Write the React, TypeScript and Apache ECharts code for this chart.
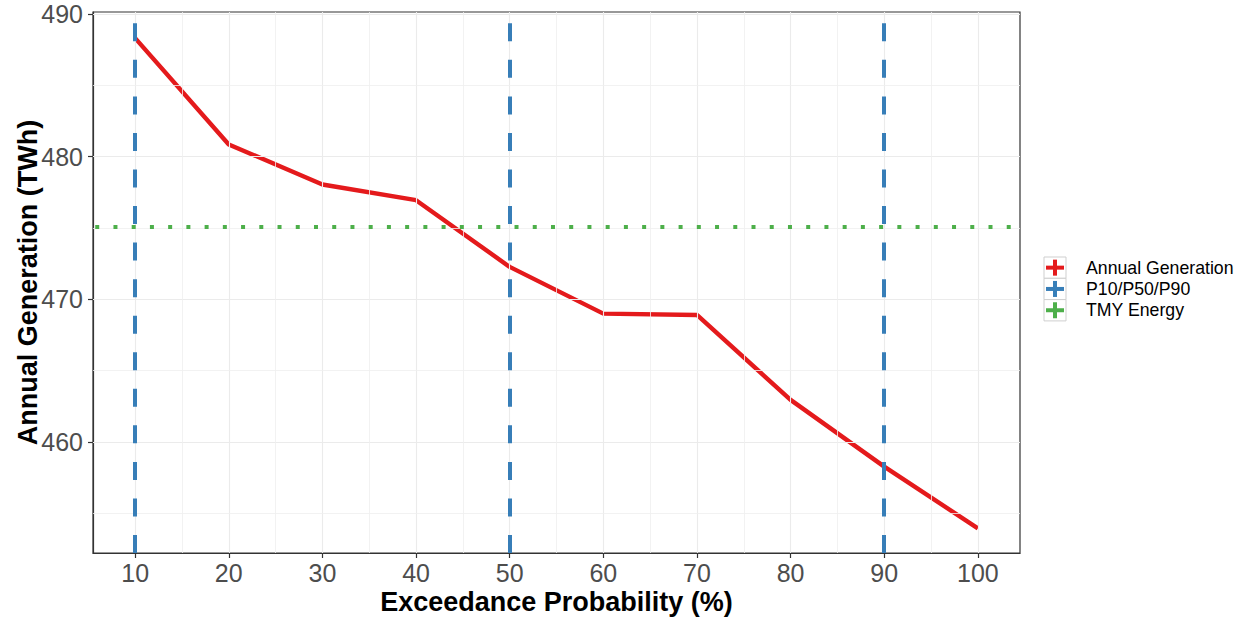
import React, { useEffect, useRef } from "react";
import * as echarts from "echarts";

// ---- data ----
const probX = [10, 20, 30, 40, 50, 60, 70, 80, 90, 100];
const genValues = [488.32, 480.86, 478.05, 476.95, 472.27, 468.99, 468.9, 462.94, 458.26, 453.93];
const pLevels = [10, 50, 90];
const tmyEnergy = 475.12;
const xTickValues = [10, 20, 30, 40, 50, 60, 70, 80, 90, 100];
const yTickValues = [460, 470, 480, 490];
const xMinorGrid = [15, 25, 35, 45, 55, 65, 75, 85, 95];
const yMinorGrid = [455, 465, 475, 485];
const legendNames = ["Annual Generation", "P10/P50/P90", "TMY Energy"];
const xTitle = "Exceedance Probability (%)";
const yTitle = "Annual Generation (TWh)";

const RED = "#E41A1C";
const BLUE = "#377EB8";
const GREEN = "#4DAF4A";
const legendColors = [RED, BLUE, GREEN];
const FONT = "'Liberation Sans', Arial, sans-serif";

export default function App() {
  const ref = useRef<HTMLDivElement>(null);
  useEffect(() => {
    if (!ref.current) return;
    const chart = echarts.init(ref.current, null, { renderer: "svg" });

    const legendGraphics: any[] = [];
    const keyX = 1044;
    const keyY0 = 257;
    const keyH = 21.3;
    legendNames.forEach((name, i) => {
      const cy = keyY0 + keyH * i + keyH / 2;
      const cx = keyX + 11;
      legendGraphics.push({
        type: "rect",
        shape: { x: keyX, y: keyY0 + keyH * i, width: 22, height: keyH },
        style: { fill: "#ffffff", stroke: "#CFCFCF", lineWidth: 1 },
      });
      legendGraphics.push({
        type: "line",
        shape: { x1: cx - 9, y1: cy, x2: cx + 9, y2: cy },
        style: { stroke: legendColors[i], lineWidth: 4 },
      });
      legendGraphics.push({
        type: "line",
        shape: { x1: cx, y1: cy - 8, x2: cx, y2: cy + 8 },
        style: { stroke: legendColors[i], lineWidth: 4 },
      });
      legendGraphics.push({
        type: "text",
        x: 1086,
        y: cy,
        style: {
          text: name,
          fill: "#000000",
          font: `17.7px ${FONT}`,
          textVerticalAlign: "middle",
          verticalAlign: "middle",
        },
      });
    });

    const option: any = {
      animation: false,
      backgroundColor: "#ffffff",
      textStyle: { fontFamily: FONT },
      grid: {
        left: 93,
        right: 224,
        top: 12,
        bottom: 67,
        containLabel: false,
        outerBoundsMode: "none",
        show: true,
        borderColor: "#333333",
        borderWidth: 1.2,
        backgroundColor: "transparent",
      },
      xAxis: {
        type: "value",
        min: 5.5,
        max: 104.5,
        name: xTitle,
        nameLocation: "middle",
        nameGap: 35,
        nameMoveOverlap: false,
        nameTextStyle: { fontSize: 27, fontWeight: "bold", color: "#000", fontFamily: FONT },
        axisLine: { show: true, lineStyle: { color: "#333333", width: 1.2 } },
        axisTick: { show: true, length: 5, customValues: xTickValues, lineStyle: { color: "#333333", width: 1.2 } },
        axisLabel: { customValues: xTickValues, fontSize: 25, color: "#4D4D4D", margin: 7, fontFamily: FONT },
        splitLine: { show: false },
      },
      yAxis: {
        type: "value",
        min: 452.2,
        max: 490.15,
        name: yTitle,
        nameLocation: "middle",
        nameGap: 52,
        nameMoveOverlap: false,
        nameRotate: 90,
        nameTextStyle: { fontSize: 27, fontWeight: "bold", color: "#000", fontFamily: FONT },
        axisLine: { show: true, lineStyle: { color: "#333333", width: 1.2 } },
        axisTick: { show: true, length: 5, customValues: yTickValues, lineStyle: { color: "#333333", width: 1.2 } },
        axisLabel: { customValues: yTickValues, fontSize: 25, color: "#4D4D4D", margin: 10, fontFamily: FONT },
        splitLine: { show: false },
      },
      series: [
        {
          name: "majorGrid",
          type: "line",
          data: [],
          z: 1,
          silent: true,
          markLine: {
            silent: true,
            symbol: ["none", "none"],
            label: { show: false },
            lineStyle: { color: "#EBEBEB", width: 1.1, type: "solid" },
            emphasis: { disabled: true },
            data: [
              ...xTickValues.map((v) => ({ xAxis: v })),
              ...yTickValues.map((v) => ({ yAxis: v })),
            ],
          },
        },
        {
          name: "minorGrid",
          type: "line",
          data: [],
          z: 1,
          silent: true,
          markLine: {
            silent: true,
            symbol: ["none", "none"],
            label: { show: false },
            lineStyle: { color: "#EFEFEF", width: 0.8, type: "solid" },
            emphasis: { disabled: true },
            data: [
              ...xMinorGrid.map((v) => ({ xAxis: v })),
              ...yMinorGrid.map((v) => ({ yAxis: v })),
            ],
          },
        },
        {
          name: legendNames[0],
          type: "line",
          data: probX.map((x, i) => [x, genValues[i]]),
          symbol: "none",
          z: 3,
          lineStyle: { color: RED, width: 4.4 },
        },
        {
          name: legendNames[1],
          type: "line",
          data: [],
          z: 4,
          markLine: {
            silent: true,
            symbol: ["none", "none"],
            label: { show: false },
            emphasis: { disabled: true },
            lineStyle: { color: BLUE, width: 4, type: [18, 18.55], dashOffset: 0, cap: "butt" },
            data: pLevels.map((v) => ({ xAxis: v })),
          },
        },
        {
          name: legendNames[2],
          type: "line",
          data: [],
          z: 5,
          markLine: {
            silent: true,
            symbol: ["none", "none"],
            label: { show: false },
            emphasis: { disabled: true },
            lineStyle: { color: GREEN, width: 4, type: [4, 14.23], dashOffset: 16.2, cap: "butt" },
            data: [{ yAxis: tmyEnergy }],
          },
        },
      ],
      graphic: legendGraphics,
    };
    chart.setOption(option);
    return () => chart.dispose();
  }, []);
  return (
    <div
      ref={ref}
      style={{ position: "fixed", left: 0, top: 0, width: 1244, height: 620, background: "#fff" }}
    />
  );
}
